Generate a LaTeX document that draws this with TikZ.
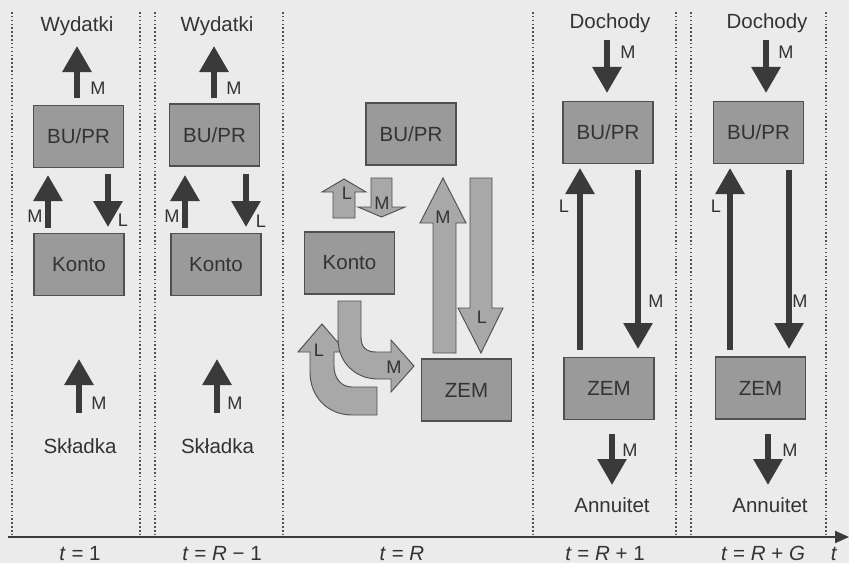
\documentclass[tikz,border=0pt]{standalone}
\usepackage{fontspec}
\setmainfont{Liberation Sans}
\usetikzlibrary{arrows.meta}
\definecolor{paper}{HTML}{EBEBEB}
\definecolor{ink}{HTML}{333333}
\definecolor{darrow}{HTML}{3A3A3A}
\definecolor{boxfill}{HTML}{9A9A9A}
\definecolor{boxline}{HTML}{505050}
\definecolor{lightarrow}{HTML}{A8A8A8}
\begin{document}
\begin{tikzpicture}[x=0.03cm,y=-0.03cm,
  box/.style={draw=boxline, line width=0.9pt, fill=boxfill, inner sep=0pt, text=ink,
    minimum width=2.7cm, minimum height=1.86cm, font=\fontsize{17.5}{20}\selectfont},
  lbl/.style={text=ink, font=\fontsize{17.5}{20}\selectfont, inner sep=0pt, anchor=base},
  sm/.style={text=ink, font=\fontsize{15.5}{18}\selectfont, inner sep=0pt},
  darr/.style={draw=darrow, line width=0.18cm, -{Triangle[width=0.84cm,length=0.78cm]}},
  blk/.style={draw=boxline, line width=0.8pt, fill=lightarrow, line join=miter},
  sep/.style={draw=ink!85, line width=1.3pt, dotted},
  axis/.style={draw=darrow, line width=1.8pt, -{Triangle[width=0.36cm,length=0.42cm]}}
]
\useasboundingbox (0,0) rectangle (849,563);
\fill[paper] (0,0) rectangle (849,563);

% separators
\foreach \xx [count=\i] in {12,140,155,283,533,676,691,826}
  \draw[sep] (\xx,12) -- (\xx,537);

% axis
\coordinate (ax0) at (8,537);
\coordinate (ax1) at (849,537);
\draw[axis] (ax0) -- (ax1);
\node[lbl] (t1) at (80,560) {\textit{t} = 1};
\node[lbl] (t2) at (222,560) {\textit{t} = \textit{R} − 1};
\node[lbl] (t3) at (402,560) {\textit{t} = \textit{R}};
\node[lbl] (t4) at (605,560) {\textit{t} = \textit{R} + 1};
\node[lbl] (t5) at (763,560) {\textit{t} = \textit{R} + \textit{G}};
\node[lbl] (tt) at (834,560) {\textit{t}};

% ---------- column 1 ----------
\node[lbl] (wy1) at (77,32) {Wydatki};
\node[box] (bu1) at (78.5,136.5) {BU/PR};
\node[box] (ko1) at (79,264.5) {Konto};
\node[lbl] (sk1) at (80,453) {Składka};
\coordinate (a1s) at (77,98);  \coordinate (a1e) at (77,46);
\coordinate (a2s) at (48,228); \coordinate (a2e) at (48,175);
\coordinate (a3s) at (108,174);\coordinate (a3e) at (108,227);
\coordinate (a4s) at (79,413); \coordinate (a4e) at (79,359);
\draw[darr] (a1s) -- (a1e);
\draw[darr] (a2s) -- (a2e);
\draw[darr] (a3s) -- (a3e);
\draw[darr] (a4s) -- (a4e);
\node[sm] (m11) at (98,88) {M};
\node[sm] (m12) at (35,216) {M};
\node[sm] (l13) at (123,220) {L};
\node[sm] (m14) at (99,403) {M};

% ---------- column 2 ----------
\node[lbl] (wy2) at (217,32) {Wydatki};
\node[box] (bu2) at (214.5,135) {BU/PR};
\node[box] (ko2) at (216,264.5) {Konto};
\node[lbl] (sk2) at (217.5,453) {Składka};
\coordinate (b1s) at (214,98);  \coordinate (b1e) at (214,46);
\coordinate (b2s) at (185,228); \coordinate (b2e) at (185,175);
\coordinate (b3s) at (246,174); \coordinate (b3e) at (246,227);
\coordinate (b4s) at (217,413); \coordinate (b4e) at (217,359);
\draw[darr] (b1s) -- (b1e);
\draw[darr] (b2s) -- (b2e);
\draw[darr] (b3s) -- (b3e);
\draw[darr] (b4s) -- (b4e);
\node[sm] (m21) at (234,88) {M};
\node[sm] (m22) at (172,216) {M};
\node[sm] (l23) at (261,221) {L};
\node[sm] (m24) at (235,403) {M};

% ---------- column 3 ----------
\node[box] (bu3) at (411,134) {BU/PR};
\node[box] (ko3) at (349.5,263) {Konto};
\node[box] (ze3) at (466.5,390) {ZEM};
% small arrows
\path[blk] (333,218) -- (333,192) -- (322,192) -- (344,179) -- (366,192) -- (355,192) -- (355,218) -- cycle;
\path[blk] (371,178) -- (392,178) -- (392,207) -- (405,207) -- (381.5,217) -- (358,207) -- (371,207) -- cycle;
\node[sm] (l31) at (347,193) {L};
\node[sm] (m32) at (382,203) {M};
% large arrows
\path[blk] (433,353) -- (433,223) -- (420,223) -- (443,178) -- (466,223) -- (456,223) -- (456,353) -- cycle;
\path[blk] (470,178) -- (492,178) -- (492,308) -- (503,308) -- (481,353) -- (458,308) -- (470,308) -- cycle;
\node[sm] (m33) at (443,217) {M};
\node[sm] (l34) at (482,317) {L};
% curved arrows
\path[blk] (377,387) -- (352,387) .. controls (341,387) and (334,378) .. (334,366) -- (334,352) -- (346,352) -- (322,324) -- (298,352) -- (310,352) -- (310,372) .. controls (310,397) and (328,415) .. (352,415) -- (377,415) -- cycle;
\path[blk] (338,301) -- (361,301) -- (361,337) .. controls (361,347) and (366,352) .. (376,352) -- (391,352) -- (391,340) -- (414,366) -- (391,392) -- (391,379) -- (378,379) .. controls (355,379) and (338,362) .. (338,339) -- cycle;
\node[sm] (l35) at (319,350) {L};
\node[sm] (m36) at (394,367) {M};

% ---------- column 4 ----------
\node[lbl] (do4) at (610,29) {Dochody};
\node[box] (bu4) at (608,132.5) {BU/PR};
\node[box] (ze4) at (609,388.5) {ZEM};
\node[lbl] (an4) at (612,512) {Annuitet};
\coordinate (c1s) at (607,40);  \coordinate (c1e) at (607,93);
\coordinate (c2s) at (580,350); \coordinate (c2e) at (580,168);
\coordinate (c3s) at (638,170); \coordinate (c3e) at (638,349);
\coordinate (c4s) at (612,434); \coordinate (c4e) at (612,485);
\draw[darr] (c1s) -- (c1e);
\draw[darr] (c2s) -- (c2e);
\draw[darr] (c3s) -- (c3e);
\draw[darr] (c4s) -- (c4e);
\node[sm] (m41) at (628,52) {M};
\node[sm] (l42) at (564,206) {L};
\node[sm] (m43) at (656,301) {M};
\node[sm] (m44) at (630,450) {M};

% ---------- column 5 ----------
\node[lbl] (do5) at (767,29) {Dochody};
\node[box] (bu5) at (758.5,132.5) {BU/PR};
\node[box] (ze5) at (760.5,388) {ZEM};
\node[lbl] (an5) at (770,512) {Annuitet};
\coordinate (d1s) at (766,40);  \coordinate (d1e) at (766,93);
\coordinate (d2s) at (730,350); \coordinate (d2e) at (730,168);
\coordinate (d3s) at (789,170); \coordinate (d3e) at (789,349);
\coordinate (d4s) at (768,434); \coordinate (d4e) at (768,485);
\draw[darr] (d1s) -- (d1e);
\draw[darr] (d2s) -- (d2e);
\draw[darr] (d3s) -- (d3e);
\draw[darr] (d4s) -- (d4e);
\node[sm] (m51) at (786,52) {M};
\node[sm] (l52) at (716,206) {L};
\node[sm] (m53) at (800,301) {M};
\node[sm] (m54) at (790,450) {M};
\end{tikzpicture}
\end{document}
